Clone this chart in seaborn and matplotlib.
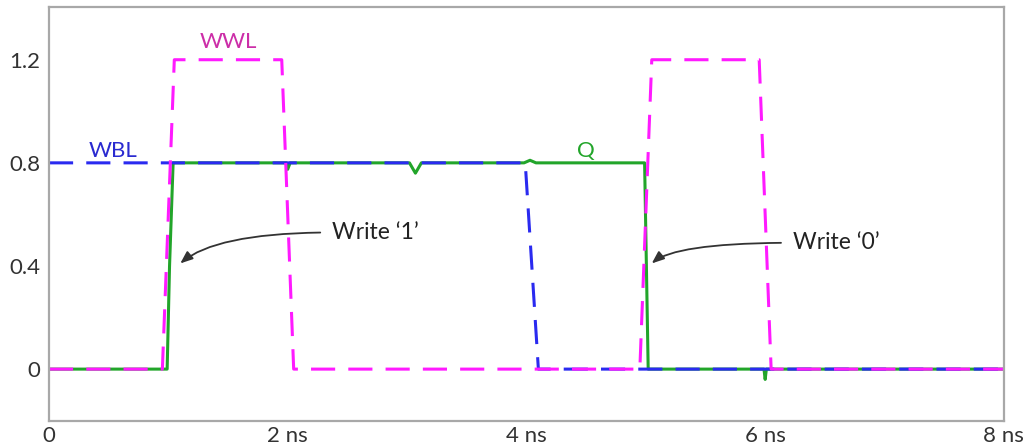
import matplotlib
matplotlib.use("Agg")
import matplotlib.pyplot as plt
import seaborn as sns
import pandas as pd

# Write word line (V) vs time (ns)
t_wwl = [0, 0.95, 1.05, 1.95, 2.05, 4.95, 5.05, 5.95, 6.05, 8]
v_wwl = [0, 0, 1.2, 1.2, 0, 0, 1.2, 1.2, 0, 0]

# Write bit line
t_wbl = [0, 3.99, 4.10, 8]
v_wbl = [0.8, 0.8, 0, 0]

# Storage node Q
t_q = [0, 0.99, 1.01, 1.04, 1.99, 2.0, 2.02, 3.02, 3.07, 3.12, 3.98, 4.03, 4.08,
       4.99, 5.02, 5.99, 6.0, 6.01, 8]
v_q = [0, 0, 0.4, 0.8, 0.8, 0.775, 0.8, 0.8, 0.76, 0.8, 0.8, 0.81, 0.8,
       0.8, 0, 0, -0.04, 0, 0]

x_ticks = [0, 2, 4, 6, 8]
x_labels = ["0", "2 ns", "4 ns", "6 ns", "8 ns"]
y_ticks = [0, 0.4, 0.8, 1.2]
y_labels = ["0", "0.4", "0.8", "1.2"]

sns.set_theme(style="white")
plt.rcParams["font.family"] = ["Lato", "DejaVu Sans"]

fig = plt.figure(figsize=(10.29, 4.48), dpi=100)
ax = fig.add_axes([0.0476, 0.061, 0.928, 0.9225])

df_q = pd.DataFrame({"t": t_q, "v": v_q})
df_wbl = pd.DataFrame({"t": t_wbl, "v": v_wbl})
df_wwl = pd.DataFrame({"t": t_wwl, "v": v_wwl})

green = "#22a52a"
blue = "#2a2af0"
magenta = "#ff1aff"
dash = [7.9, 4.3]

sns.lineplot(data=df_q, x="t", y="v", ax=ax, color=green, lw=2.2,
             estimator=None, sort=False)
l_wbl = sns.lineplot(data=df_wbl, x="t", y="v", ax=ax, color=blue, lw=2.2,
                     estimator=None, sort=False).lines[-1]
l_wbl.set_dashes(dash)
l_wwl = sns.lineplot(data=df_wwl, x="t", y="v", ax=ax, color=magenta, lw=2.2,
                     estimator=None, sort=False).lines[-1]
l_wwl.set_dashes(dash)

ax.set_xlim(0, 8)
ax.set_ylim(-0.2, 1.403)
ax.set_xticks(x_ticks)
ax.set_xticklabels(x_labels)
ax.set_yticks(y_ticks)
ax.set_yticklabels(y_labels)
ax.set_xlabel("")
ax.set_ylabel("")
ax.tick_params(axis="both", labelsize=16, colors="#333333", length=4,
               width=1, pad=3)
ax.tick_params(axis="x", color="#b0b0b0", pad=0)
ax.tick_params(axis="y", color="#b0b0b0", pad=2)
for s in ax.spines.values():
    s.set_color("#a8a8a8")
    s.set_linewidth(1.6)

# Signal names
ax.text(1.50, 1.27, "WWL", color="#cc2ea8", fontsize=16, ha="center", va="center")
ax.text(0.54, 0.845, "WBL", color="#2a2ad0", fontsize=16, ha="center", va="center")
ax.text(4.50, 0.845, "Q", color=green, fontsize=16, ha="center", va="center")

arrow = dict(arrowstyle="-|>,head_length=0.45,head_width=0.18", color="#333333",
             lw=1.3, shrinkA=6, shrinkB=0, relpos=(0, 0.5))
ax.annotate("Write \u20181\u2019", xy=(1.10, 0.41), xytext=(2.37, 0.53),
            fontsize=16.5, color="#222222", ha="left", va="center",
            arrowprops=dict(arrow, connectionstyle="angle3,angleA=0,angleB=40"))
ax.annotate("Write \u20180\u2019", xy=(5.05, 0.41), xytext=(6.23, 0.49),
            fontsize=16.5, color="#222222", ha="left", va="center",
            arrowprops=dict(arrow, connectionstyle="angle3,angleA=0,angleB=40"))

fig.savefig("out.png", dpi=100)
